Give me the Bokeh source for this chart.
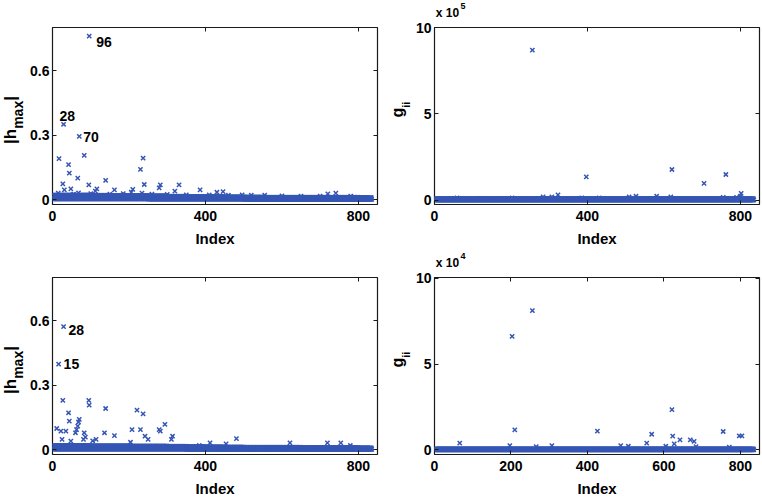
import math
from bokeh.plotting import figure
from bokeh.models import Range1d, FixedTicker, LinearAxis
from bokeh.layouts import row, column
from bokeh.embed import file_html
from bokeh.resources import INLINE
from bokeh.core.properties import value

# ---------------- data ----------------
N = 835          # number of indices
BLOCK = 50       # band levels are read per block of 50 indices

# Panel (a) |h_max|
a_band_lo = [0.003, 0.003, 0.003, 0.003, 0.003, 0.002, 0.002, 0.002, 0.002, 0.002,
             0.001, 0.001, 0.001, 0.001, 0.001, 0.001, 0.001]
a_band_hi = [0.020, 0.020, 0.019, 0.018, 0.018, 0.017, 0.015, 0.014, 0.013, 0.012,
             0.011, 0.010, 0.010, 0.010, 0.010, 0.010, 0.009]
a_idx = [96, 29, 70, 17, 83, 42, 44, 27, 66, 95, 139, 230, 237, 240, 282, 279, 331, 386,
         320, 116, 112, 162, 48, 31, 210, 206, 234, 430, 446, 496, 720, 741, 15, 68, 55,
         100, 150, 185, 260, 300, 350, 410, 460, 520, 555, 600, 650, 700, 780]
a_val = [0.760, 0.350, 0.294, 0.190, 0.205, 0.162, 0.123, 0.073, 0.100, 0.068, 0.089,
         0.140, 0.193, 0.070, 0.068, 0.054, 0.068, 0.045, 0.039, 0.050, 0.039, 0.045,
         0.050, 0.045, 0.047, 0.034, 0.030, 0.034, 0.037, 0.022, 0.026, 0.030, 0.030,
         0.031, 0.025, 0.028, 0.025, 0.028, 0.025, 0.024, 0.022, 0.022, 0.020, 0.020,
         0.020, 0.017, 0.016, 0.016, 0.016]
a_notes = ["96", "28", "70"]
a_note_idx = [96, 29, 70]
a_note_val = [0.760, 0.350, 0.294]

# Panel (b) g_ii  (in units of 10^5)
b_band_lo = [0.0] * 17
b_band_hi = [0.08] * 17
b_idx = [256, 397, 621, 705, 762, 802, 800, 284, 307, 323, 509, 527, 581, 618, 431,
         385, 203, 59, 120, 170, 755, 790]
b_val = [8.69, 1.34, 1.77, 0.96, 1.48, 0.38, 0.22, 0.18, 0.18, 0.30, 0.18, 0.22, 0.22,
         0.18, 0.12, 0.12, 0.12, 0.12, 0.10, 0.10, 0.15, 0.15]

# Panel (c) |h_max|
c_band_lo = [0.002, 0.002, 0.002, 0.002, 0.002, 0.002, 0.002, 0.001, 0.001, 0.001,
             0.001, 0.001, 0.001, 0.001, 0.001, 0.001, 0.001]
c_band_hi = [0.018, 0.018, 0.017, 0.017, 0.016, 0.016, 0.015, 0.013, 0.012, 0.011,
             0.010, 0.010, 0.010, 0.009, 0.009, 0.009, 0.008]
c_idx = [29, 16, 27, 95, 96, 139, 221, 237, 42, 44, 70, 68, 66, 63, 11, 22, 35, 60, 83,
         86, 81, 25, 48, 136, 162, 208, 230, 242, 250, 279, 282, 294, 314, 311, 204, 384,
         412, 454, 481, 621, 719, 754, 779, 114, 105]
c_val = [0.572, 0.397, 0.229, 0.229, 0.207, 0.191, 0.183, 0.166, 0.171, 0.132, 0.140,
         0.128, 0.109, 0.093, 0.098, 0.086, 0.086, 0.078, 0.078, 0.058, 0.047, 0.047,
         0.039, 0.078, 0.065, 0.093, 0.093, 0.062, 0.047, 0.093, 0.086, 0.117, 0.062,
         0.047, 0.034, 0.019, 0.031, 0.026, 0.051, 0.031, 0.031, 0.031, 0.019, 0.047,
         0.040]
c_notes = ["28", "15"]
c_note_idx = [29, 16]
c_note_val = [0.572, 0.397]

# Panel (d) g_ii  (in units of 10^4)
d_band_lo = [0.0] * 17
d_band_hi = [0.06] * 17
d_idx = [256, 203, 210, 426, 621, 568, 623, 627, 642, 669, 679, 755, 797, 804, 555, 66,
         197, 266, 307, 487, 507, 605, 684, 771]
d_val = [8.12, 6.62, 1.165, 1.09, 2.35, 0.91, 0.80, 0.35, 0.58, 0.58, 0.50, 1.07, 0.82,
         0.82, 0.39, 0.39, 0.25, 0.19, 0.25, 0.25, 0.21, 0.21, 0.19, 0.16]

x_ticks = [0, 400, 800]
x_ticks_d = [0, 200, 400, 600, 800]
h_ticks = [0, 0.3, 0.6]
g_ticks = [0, 5, 10]

# ---------------- style ----------------
FONT = "'Liberation Sans', Arial, sans-serif"
BLUE = "#3656b4"
FW, FH = 325, 177
MID = 0.33   # distance (in em) from the text box centre to the baseline
EXP_H = 19   # height of the strip holding the "x 10^n" factor


def series(lo, hi, idx, val):
    xs, ys = [], []
    for i in range(1, N + 1):
        b = (i - 1) // BLOCK
        xs.append(i)
        ys.append(lo[b] if i % 2 else hi[b])
    return xs + list(idx), ys + list(val)


def panel(xs, ys, yr, yticks, xticks, borders, overrides=None):
    l, r, t, b = borders
    p = figure(frame_width=FW, frame_height=FH, x_range=Range1d(0, 850),
               y_range=Range1d(*yr), output_backend="svg", toolbar_location=None,
               min_border_left=l, min_border_right=r, min_border_top=t,
               min_border_bottom=b)
    p.background_fill_color = "white"
    p.border_fill_color = "white"
    p.outline_line_color = "#1a1a1a"
    p.outline_line_width = 1.2
    p.grid.visible = False
    p.scatter(xs, ys, marker="x", size=6, line_width=1.5, line_color=BLUE)
    p.xaxis.ticker = FixedTicker(ticks=xticks)
    p.yaxis.ticker = FixedTicker(ticks=yticks)
    if overrides:
        p.yaxis.major_label_overrides = overrides
    for ax in (p.xaxis[0], p.yaxis[0]):
        ax.axis_line_color = None
        ax.major_tick_in = 4
        ax.major_tick_out = 0
        ax.major_tick_line_color = "#1a1a1a"
        ax.minor_tick_line_color = None
        ax.major_label_text_font = FONT
        ax.major_label_text_font_style = "bold"
        ax.major_label_text_font_size = "14px"
        ax.major_label_text_color = "black"
    p.yaxis.major_label_standoff = 3
    p.xaxis.major_label_standoff = 6
    p.xaxis.axis_label = "Index"
    p.xaxis.axis_label_text_font = FONT
    p.xaxis.axis_label_text_font_style = "bold"
    p.xaxis.axis_label_text_font_size = "15px"
    p.xaxis.axis_label_text_color = "black"
    p.xaxis.axis_label_standoff = 6
    # box ticks on the right and top (no labels drawn)
    for loc, tk in (("right", yticks), ("above", xticks)):
        ax = LinearAxis(ticker=FixedTicker(ticks=tk), major_label_text_font_size="1px",
                        major_label_text_color=None, major_label_standoff=0,
                        major_tick_in=4, major_tick_out=0,
                        major_tick_line_color="#1a1a1a", minor_tick_line_color=None,
                        axis_line_color=None)
        p.add_layout(ax, loc)
    return p


def strip(fw, fh, left=0, right=0, top=0, bottom=0):
    """A plain text area; coordinates are pixels of its frame (y up)."""
    f = figure(frame_width=fw, frame_height=fh, x_range=Range1d(0, fw),
               y_range=Range1d(0, fh), output_backend="svg", toolbar_location=None,
               min_border_left=left, min_border_right=right, min_border_top=top,
               min_border_bottom=bottom, x_axis_location=None, y_axis_location=None)
    f.grid.visible = False
    f.outline_line_color = None
    f.background_fill_color = "white"
    f.border_fill_color = "white"
    return f


def put(f, x, y, text, size, angle=0.0):
    f.text(x=[x], y=[y], text=[text], angle=angle, text_font=value(FONT),
           text_font_style="bold", text_font_size="%dpx" % size, text_align="left",
           text_baseline="middle", text_color="black")


def put_v(f, base_x, y, text, size):
    # vertical text reading upwards; base_x is where its baseline should lie
    put(f, base_x - MID * size, y, text, size, math.pi / 2)


def h_strip(top, bottom):
    f = strip(27, FH, top=top, bottom=bottom)
    y0 = 60.5
    put_v(f, 15.5, y0, "|h", 17)
    y1 = y0 + 0.891 * 17
    put_v(f, 22.5, y1, "max", 14)
    y2 = y1 + 2.001 * 14
    put_v(f, 15.5, y2, "|", 17)
    return f


def g_strip(top, bottom):
    f = strip(25, FH, top=top, bottom=bottom)
    y0 = 87
    put_v(f, 15, y0, "g", 16)
    put_v(f, 22, y0 + 0.611 * 16, "ii", 11)
    return f


def exp_strip(exp):
    f = strip(FW, EXP_H, left=20, right=5)
    put(f, 1.3, 3 + MID * 12, "x 10", 12)
    put(f, 26, 10.5 + MID * 9, exp, 9)
    return f


def notes(p, xs, ys, texts, dx, dy):
    p.text(x=xs, y=ys, text=texts, x_offset=dx, y_offset=dy, text_font=value(FONT),
           text_font_style="bold", text_font_size="14px", text_align="left",
           text_baseline="middle", text_color="black")


hov = {0: "0", 0.3: "0.3", 0.6: "0.6"}

xa, ya = series(a_band_lo, a_band_hi, a_idx, a_val)
pa = panel(xa, ya, (-0.023, 0.8), h_ticks, x_ticks, (25, 10, 27, 46), hov)
notes(pa, a_note_idx, a_note_val, a_notes, [7, -4, 4], [6, -8, 1])

xb, yb = series(b_band_lo, b_band_hi, b_idx, b_val)
pb = panel(xb, yb, (-0.26, 10.0), g_ticks, x_ticks, (20, 5, 27 - EXP_H, 46))

xc, yc = series(c_band_lo, c_band_hi, c_idx, c_val)
pc = panel(xc, yc, (-0.023, 0.8), h_ticks, x_ticks, (25, 10, 25, 48), hov)
notes(pc, c_note_idx, c_note_val, c_notes, [5, 5], [3, 0])

xd, yd = series(d_band_lo, d_band_hi, d_idx, d_val)
pd = panel(xd, yd, (-0.27, 10.05), g_ticks, x_ticks_d, (20, 5, 27 - EXP_H, 46))

row1 = row(h_strip(27, 46), pa, g_strip(27, 46), column(exp_strip("5"), pb))
row2 = row(h_strip(25, 48), pc, g_strip(27, 46), column(exp_strip("4"), pd))
layout = column(row1, row2)
open("out.html", "w").write(file_html(layout, INLINE))
